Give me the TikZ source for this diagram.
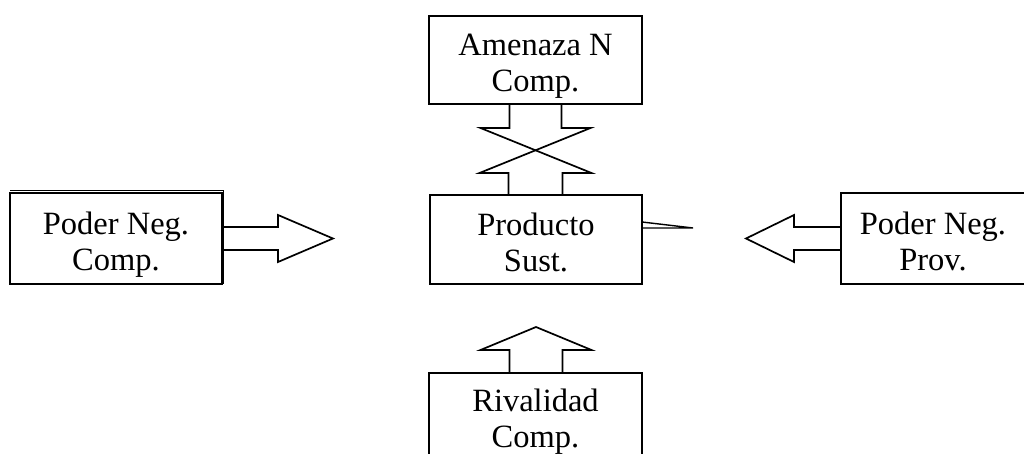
\documentclass[tikz,border=0pt]{standalone}
\usepackage{fontspec}
\setmainfont{Liberation Serif}
\usepackage{tikz}
\usetikzlibrary{calc}

\begin{document}
\begin{tikzpicture} [x=1pt, y=-1pt,
  caja/.style = {draw, rectangle, line width=2pt, inner sep=0pt, outer sep=0pt, align=center,
    text height=64pt, text depth=0pt, font=\fontsize{32.5}{36}\selectfont},
  flecha/.style = {draw, line width=1.7pt, line join=miter}]
\useasboundingbox (0,0) rectangle (1024,454);
\clip (0,0) rectangle (1024,454);
\node[caja, minimum width=213pt, minimum height=88pt] (am) at (535.5,60) {Amenaza N\\Comp.};
\node[caja, minimum width=212pt, minimum height=89pt] (ps) at (536,239.5) {Producto\\Sust.};
\node[caja, minimum width=212pt, minimum height=91pt] (pc) at (116,238.5) {Poder Neg.\\Comp.};
\node[caja, draw=none, minimum width=184pt, minimum height=91pt] (pp) at (933,238.5) {Poder Neg.\\Prov.};
\node[caja, minimum width=213pt, minimum height=85pt] (rv) at (535.5,415.5) {Rivalidad\\Comp.};
% caja abierta a la derecha
\draw[line width=2pt] ($(pp.north east)+(10,0)$) -- (pp.north west) -- (pp.south west) -- ($(pp.south east)+(10,0)$);
% doble borde
\draw[line width=0.8pt] ($(pc.north west)+(0,-2.5)$) -- ($(pc.north east)+(1.5,-2.5)$) -- ($(pc.south east)+(1.5,0)$);
% flechas
\draw[flecha] (pc.east) ++(0,-11.5) -- ++(56,0) -- ++(0,-12) -- ++(55,23.5) -- ++(-55,23.5) -- ++(0,-12) -- ++(-56,0);
\draw[flecha] (pp.west) ++(0,-11.5) -- ++(-47,0) -- ++(0,-12) -- ++(-48,23.5) -- ++(48,23.5) -- ++(0,-12) -- ++(47,0);
\draw[flecha] (rv.north) ++(-26,0) -- ++(0,-23) -- ++(-29,0) -- ++(55.5,-23) -- ++(55.5,23) -- ++(-29,0) -- ++(0,23);
\draw[flecha] (am.south) ++(-26,0) -- ++(0,24) -- ++(-29,0) -- ++(111,45) -- ++(-29,0) -- ++(0,22);
\draw[flecha] (am.south) ++(26,0) -- ++(0,24) -- ++(29,0) -- ++(-111,45) -- ++(29,0) -- ++(0,22);
\draw[flecha, line width=1.4pt] (ps.east) ++(0,-17.5) -- ++(51,6) -- ++(-51,0);
\end{tikzpicture}
\end{document}
